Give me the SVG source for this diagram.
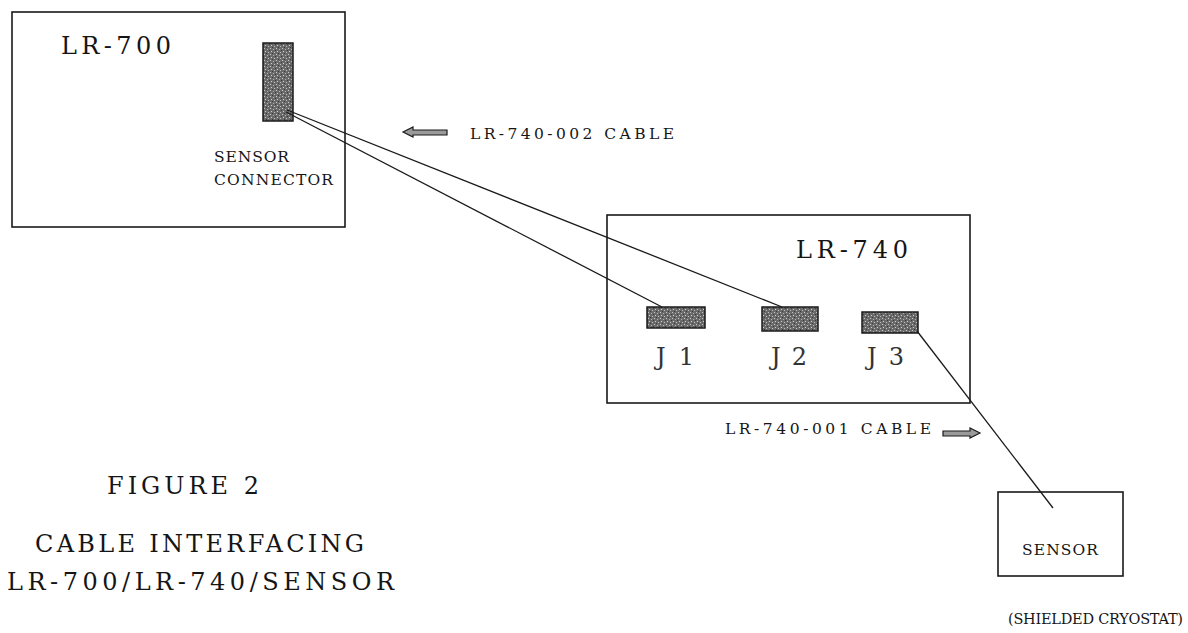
<svg xmlns="http://www.w3.org/2000/svg" width="1188" height="633" viewBox="0 0 1188 633">
<defs>
<pattern id="grain" width="6" height="6" patternUnits="userSpaceOnUse">
<rect width="6" height="6" fill="#6a6a6a"/>
<rect x="0" y="0" width="1" height="1" fill="#c8c8c8"/>
<rect x="3" y="1" width="1" height="1" fill="#b0b0b0"/>
<rect x="1" y="3" width="1" height="1" fill="#d0d0d0"/>
<rect x="4" y="4" width="1" height="1" fill="#bdbdbd"/>
<rect x="2" y="5" width="1" height="1" fill="#3a3a3a"/>
<rect x="5" y="2" width="1" height="1" fill="#3a3a3a"/>
</pattern>
</defs>
<style>
.box{fill:none;stroke:#1a1a1a;stroke-width:1.6}
.conn{fill:url(#grain);stroke:#1a1a1a;stroke-width:1.5}
.wire{fill:none;stroke:#1a1a1a;stroke-width:1.3}
.arr{fill:#9a9a9a;stroke:#1a1a1a;stroke-width:1.2}
text{font-family:"DejaVu Serif","Liberation Serif",serif;fill:#151515}
.big{font-size:24px}
.sm{font-size:15.5px}
.j{font-size:24px;fill:#333}
.cap{font-size:24px}
.tiny{font-size:14.5px}
</style>
<rect width="1188" height="633" fill="#fff"/>
<g id="lr700">
<rect class="box" x="12" y="12" width="333" height="215"/>
<text class="big" x="61" y="54" textLength="110" lengthAdjust="spacing">LR-700</text>
<rect class="conn" x="263" y="43" width="30" height="78"/>
<text class="sm" x="214" y="162" textLength="75" lengthAdjust="spacing">SENSOR</text>
<text class="sm" x="214" y="185" textLength="119" lengthAdjust="spacing">CONNECTOR</text>
</g>
<g id="cable002">
<polygon class="arr" points="403,132 413,127 413,130 447,130 447,135 413,135 413,137"/>
<text class="sm" x="470" y="139" textLength="204" lengthAdjust="spacing">LR-740-002 CABLE</text>
</g>
<g id="lr740">
<rect class="box" x="607" y="215" width="363" height="188"/>
<text class="big" x="796" y="258" textLength="112" lengthAdjust="spacing">LR-740</text>
<rect class="conn" x="647" y="307" width="58" height="21"/>
<rect class="conn" x="762" y="307" width="56" height="24"/>
<rect class="conn" x="862" y="312" width="56" height="21"/>
<text class="j" x="656" y="365" textLength="38" lengthAdjust="spacing">J1</text>
<text class="j" x="771" y="365" textLength="36" lengthAdjust="spacing">J2</text>
<text class="j" x="867" y="365" textLength="37" lengthAdjust="spacing">J3</text>
</g>
<g id="cable001">
<text class="sm" x="725" y="434" textLength="206" lengthAdjust="spacing">LR-740-001 CABLE</text>
<polygon class="arr" points="980,433 970,428 970,431 943,431 943,436 970,436 970,438"/>
</g>
<g id="sensor">
<rect class="box" x="998" y="492" width="125" height="84"/>
<text class="sm" x="1022" y="555" textLength="76" lengthAdjust="spacing">SENSOR</text>
<text class="tiny" x="1008" y="624" textLength="175" lengthAdjust="spacing">(SHIELDED CRYOSTAT)</text>
</g>
<g id="caption">
<text class="cap" x="107" y="494" textLength="152" lengthAdjust="spacing">FIGURE 2</text>
<text class="cap" x="35" y="552" textLength="329" lengthAdjust="spacing">CABLE INTERFACING</text>
<text class="cap" x="7" y="590" textLength="387" lengthAdjust="spacing">LR-700/LR-740/SENSOR</text>
</g>
<g id="connectors">
<line class="wire" x1="287" y1="110" x2="782" y2="307"/>
<line class="wire" x1="286" y1="112" x2="662" y2="307"/>
<line class="wire" x1="917" y1="331" x2="1053" y2="508"/>
</g>
</svg>
